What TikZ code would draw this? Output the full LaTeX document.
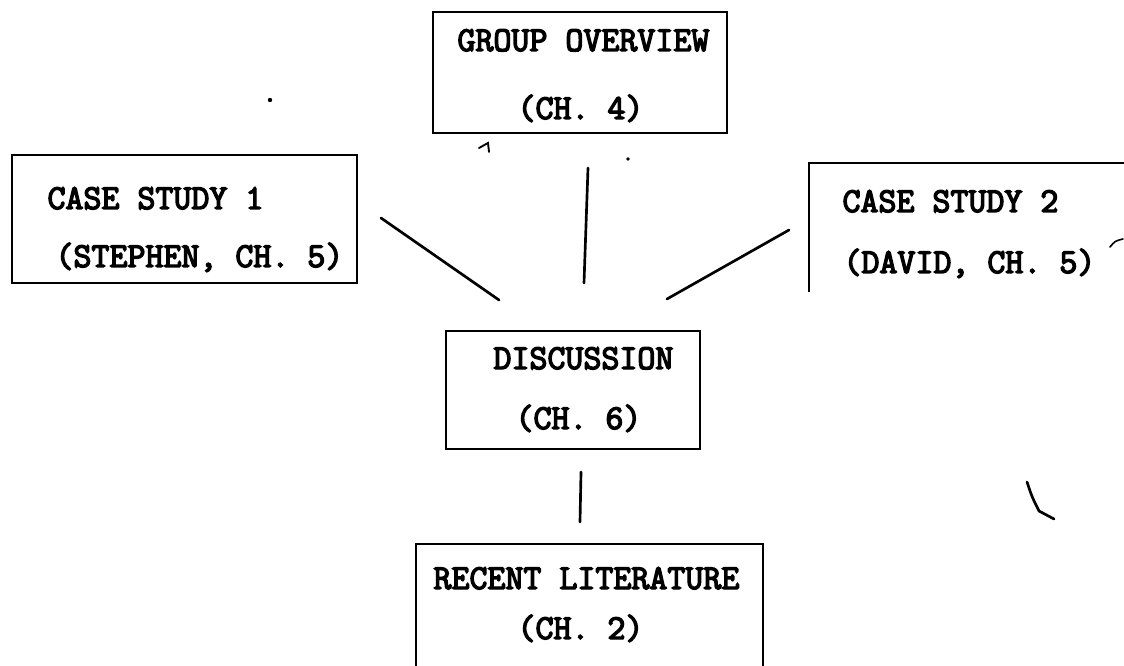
\documentclass[tikz,border=0pt]{standalone}
\usepackage{fontspec}
\setmonofont{Latin Modern Mono}[FakeBold=4]
\tikzset{every picture/.style={line width=0.75pt}}
\tikzset{
  boxline/.style={line width=1.4pt},
  linkline/.style={line width=2pt, line cap=round},
  typed/.style={anchor=base west, inner sep=0pt, font=\ttfamily\fontsize{26.2}{30}\selectfont},
}

\begin{document}
\begin{tikzpicture}[x=0.75pt,y=0.75pt,yscale=-1,xscale=1]
\useasboundingbox (0,0) rectangle (1124,666);

%Shape: Rectangle [id:group overview]
\draw [boxline] (433,12) rectangle (727,133);
%Shape: Rectangle [id:case study 1]
\draw [boxline] (12,155) rectangle (357,283);
%Shape: Open Box [id:case study 2]
\draw [boxline] (809,292) -- (809,163) -- (1124,163);
%Shape: Rectangle [id:discussion]
\draw [boxline] (446,331) rectangle (700,449);
%Shape: Open Box [id:recent literature]
\draw [boxline] (416,666) -- (416,544) -- (763,544) -- (763,666);

% Connector ends
\coordinate (cs1end) at (381,218);
\coordinate (dsc1end) at (499,300);
\coordinate (grpend) at (588,168);
\coordinate (dsc2end) at (584,283);
\coordinate (cs2end) at (789,230);
\coordinate (dsc3end) at (667,299);
\coordinate (dsc4end) at (581,472);
\coordinate (litend) at (580,522);

%Straight Lines
\draw [linkline] (cs1end) -- (dsc1end);
\draw [linkline] (grpend) -- (dsc2end);
\draw [linkline] (cs2end) -- (dsc3end);
\draw [linkline] (dsc4end) -- (litend);

%Stray pen marks
\draw [linkline] (1027,482) .. controls (1032,497) .. (1039,511) -- (1054,519);
\draw [line width=1.2pt, line cap=round] (1110,247) .. controls (1115,241) .. (1123,239);
\draw [line width=1.4pt, line cap=round] (479,148) -- (488,143) -- (489,152);
\fill (270,100) circle (2.2);
\fill (628,159) circle (1.8);

% Text Node
\node [typed] (grptop) at (457,51) {GROUP OVERVIEW};
% Text Node
\node [typed] (grpch) at (517,119) {(CH. 4)};
% Text Node
\node [typed] (cs1top) at (47,209) {CASE STUDY 1};
% Text Node
\node [typed] (cs1ch) at (55,267) {(STEPHEN, CH. 5)};
% Text Node
\node [typed] (cs2top) at (842,212) {CASE STUDY 2};
% Text Node
\node [typed] (cs2ch) at (843,273) {(DAVID, CH. 5)};
% Text Node
\node [typed] (dsctop) at (493,369) {DISCUSSION};
% Text Node
\node [typed] (dscch) at (515,429) {(CH. 6)};
% Text Node
\node [typed] (littop) at (433,589) {RECENT LITERATURE};
% Text Node
\node [typed] (litch) at (517,639) {(CH. 2)};

\end{tikzpicture}
\end{document}
